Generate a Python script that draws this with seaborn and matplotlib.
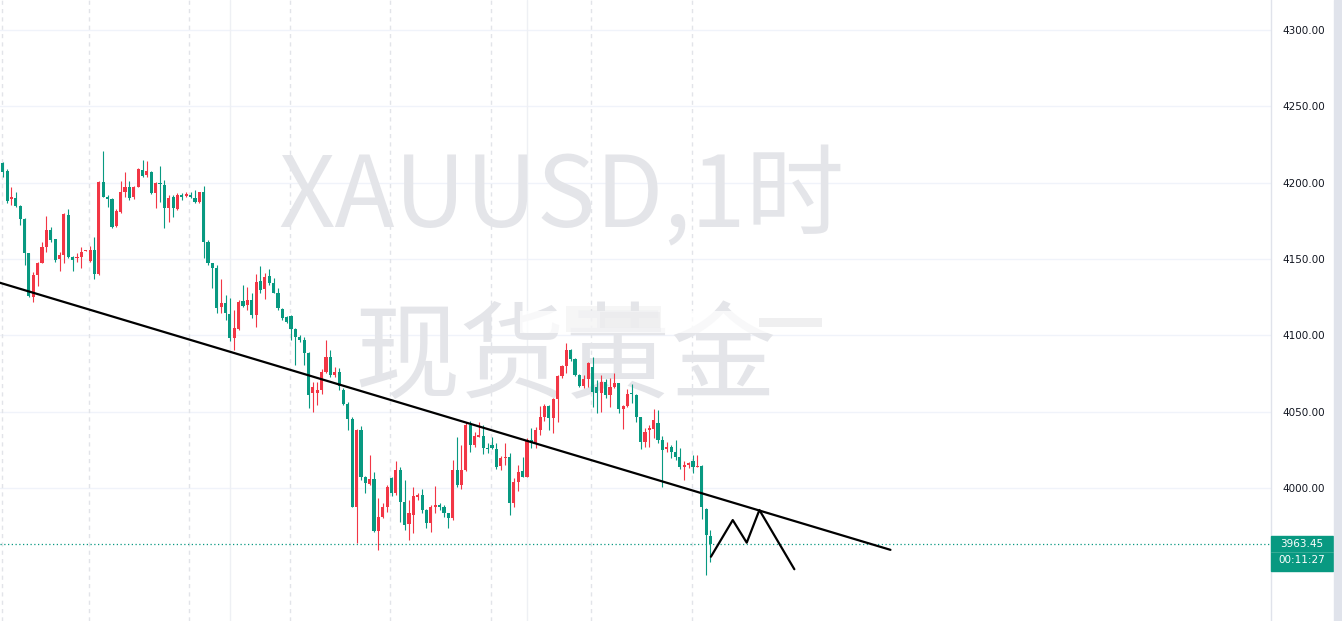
import numpy as np
import pandas as pd
import matplotlib
matplotlib.use("Agg")
import matplotlib.pyplot as plt
import matplotlib.transforms as mtransforms
from matplotlib.patches import Rectangle
import seaborn as sns

# XAUUSD 1h candles, oldest first
opens = [4213.0, 4207.8, 4189.0, 4189.7, 4184.7, 4176.2, 4153.7, 4125.3, 4139.5, 4147.6,
         4158.0, 4169.0, 4162.8, 4149.8, 4152.6, 4179.0, 4151.5, 4150.4, 4151.1, 4155.2,
         4148.9, 4155.9, 4140.1, 4200.2, 4190.8, 4189.0, 4171.6, 4181.0, 4194.1, 4197.3,
         4190.8, 4197.3, 4208.3, 4205.0, 4207.2, 4193.4, 4200.0, 4198.4, 4183.1, 4190.3,
         4182.7, 4191.9, 4191.2, 4191.9, 4189.7, 4187.5, 4194.1, 4161.3, 4147.1, 4143.9,
         4118.4, 4121.4, 4114.0, 4098.1, 4104.2, 4122.7, 4119.9, 4123.2, 4113.3, 4135.6,
         4130.1, 4138.9, 4134.5, 4128.0, 4117.0, 4112.2, 4112.7, 4103.9, 4099.1, 4097.0,
         4088.7, 4062.0, 4062.5, 4064.2, 4076.2, 4086.1, 4074.0, 4076.2, 4064.2, 4055.0,
         4045.0, 3987.7, 4038.0, 4007.4, 4002.6, 4005.6, 3972.0, 3981.2, 3987.7, 4006.3,
         3996.5, 4011.8, 3991.0, 3976.4, 3982.3, 3994.2, 3995.4, 3985.6, 3976.8, 3987.7,
         3988.8, 3987.7, 3983.4, 3980.1, 4011.8, 4001.9, 4011.8, 4041.2, 4028.1, 4033.6,
         4034.0, 4026.4, 4028.1, 4025.3, 4014.4, 4019.4, 4020.1, 3990.4, 4004.2, 4011.4,
         4007.4, 4031.5, 4029.5, 4038.0, 4046.3, 4053.7, 4045.7, 4058.1, 4073.4, 4079.9,
         4090.4, 4084.3, 4074.0, 4066.8, 4071.2, 4079.5, 4066.0, 4062.5, 4069.7, 4060.9,
         4066.0, 4068.6, 4052.0, 4053.7, 4062.5, 4061.0, 4046.3, 4030.4, 4038.0, 4038.4,
         4042.8, 4031.5, 4025.3, 4027.1, 4023.8, 4020.1, 4013.6, 4015.1, 4017.9, 4014.0,
         4014.4, 3986.0, 3968.5]
highs = [4213.7, 4208.7, 4197.3, 4194.1, 4185.3, 4176.6, 4154.1, 4141.7, 4148.2, 4161.3,
         4178.1, 4170.7, 4163.3, 4154.8, 4180.3, 4182.7, 4151.9, 4153.7, 4157.6, 4155.6,
         4158.5, 4164.6, 4201.0, 4220.7, 4191.9, 4189.7, 4182.5, 4201.3, 4207.2, 4201.3,
         4197.6, 4209.6, 4214.8, 4214.4, 4207.8, 4200.4, 4210.9, 4201.7, 4191.9, 4191.9,
         4193.0, 4193.4, 4194.1, 4194.1, 4195.2, 4194.1, 4198.0, 4162.4, 4147.6, 4146.0,
         4136.7, 4126.4, 4124.2, 4116.6, 4123.2, 4133.0, 4131.9, 4127.5, 4140.2, 4145.4,
         4141.1, 4143.2, 4137.3, 4130.8, 4117.7, 4112.7, 4113.3, 4104.6, 4100.2, 4098.7,
         4089.3, 4069.7, 4069.7, 4078.0, 4097.0, 4090.4, 4079.5, 4078.4, 4065.3, 4056.6,
         4046.7, 4038.4, 4040.6, 4007.8, 4021.6, 4010.7, 3993.2, 3989.9, 4001.9, 4007.0,
         4017.9, 4014.0, 4005.2, 3992.1, 4000.8, 3996.5, 3999.1, 3986.0, 3988.8, 4001.3,
         3989.9, 3988.8, 3983.8, 4018.3, 4033.6, 4028.1, 4043.4, 4044.1, 4036.9, 4043.4,
         4041.2, 4029.2, 4033.6, 4029.7, 4020.9, 4029.2, 4023.1, 4006.4, 4015.0, 4020.5,
         4032.6, 4039.1, 4040.0, 4053.7, 4055.0, 4054.5, 4059.0, 4074.0, 4080.5, 4095.2,
         4091.0, 4085.0, 4074.5, 4074.0, 4082.8, 4086.0, 4070.8, 4074.0, 4071.2, 4071.8,
         4075.1, 4069.0, 4054.4, 4064.6, 4068.1, 4061.3, 4046.7, 4039.1, 4041.3, 4051.5,
         4051.1, 4034.1, 4030.4, 4028.2, 4031.5, 4026.0, 4017.9, 4017.3, 4021.6, 4021.6,
         4015.1, 3986.7, 3972.5]
lows = [4203.9, 4186.4, 4185.3, 4184.2, 4172.2, 4146.0, 4125.3, 4121.6, 4132.5, 4147.1,
        4154.8, 4161.3, 4148.2, 4142.1, 4147.1, 4150.4, 4142.3, 4148.2, 4143.9, 4154.9,
        4147.8, 4136.6, 4139.5, 4190.4, 4184.2, 4170.0, 4170.7, 4179.9, 4190.8, 4188.6,
        4189.0, 4196.9, 4203.9, 4203.9, 4192.5, 4183.1, 4187.5, 4170.0, 4174.4, 4177.3,
        4182.1, 4188.6, 4190.8, 4189.7, 4186.9, 4186.4, 4150.4, 4146.0, 4130.8, 4114.4,
        4114.9, 4110.1, 4096.5, 4090.4, 4103.5, 4118.8, 4116.6, 4111.2, 4105.3, 4127.5,
        4123.6, 4133.0, 4127.5, 4116.6, 4110.1, 4108.3, 4097.0, 4080.6, 4095.9, 4080.6,
        4052.2, 4050.0, 4054.4, 4061.6, 4075.0, 4073.0, 4073.0, 4064.2, 4054.4, 4038.0,
        3987.3, 3963.7, 4005.2, 3996.9, 4001.9, 3971.5, 3959.4, 3980.1, 3984.5, 3995.0,
        3995.4, 3977.9, 3972.5, 3965.9, 3970.3, 3992.1, 3983.4, 3973.5, 3971.4, 3983.4,
        3985.6, 3980.8, 3973.5, 3979.0, 4000.8, 3999.1, 4011.3, 4023.8, 4027.0, 4033.2,
        4022.2, 4022.7, 4025.3, 4012.2, 4011.8, 4015.0, 3982.3, 3987.8, 3998.0, 4007.0,
        4007.0, 4026.0, 4026.0, 4035.0, 4044.0, 4038.0, 4035.8, 4043.5, 4072.0, 4075.1,
        4083.5, 4073.5, 4066.0, 4065.3, 4066.0, 4053.3, 4048.9, 4050.0, 4058.7, 4053.3,
        4065.3, 4049.4, 4038.4, 4053.0, 4055.9, 4043.5, 4025.4, 4027.1, 4027.1, 4032.6,
        4029.3, 4000.9, 4023.8, 4019.5, 4018.4, 4012.3, 4005.3, 4012.9, 4009.6, 4013.6,
        3980.0, 3943.0, 3951.7]
closes = [4207.2, 4187.9, 4190.3, 4184.9, 4176.2, 4153.7, 4125.7, 4139.5, 4147.1, 4158.0,
          4169.0, 4162.4, 4149.3, 4152.6, 4179.4, 4151.5, 4149.3, 4151.1, 4154.8, 4155.3,
          4155.9, 4140.1, 4200.6, 4190.8, 4189.0, 4171.1, 4181.6, 4194.1, 4197.3, 4189.7,
          4197.3, 4208.7, 4204.3, 4207.8, 4193.0, 4200.0, 4199.1, 4183.1, 4189.9, 4183.1,
          4191.9, 4190.8, 4192.3, 4190.3, 4187.5, 4193.6, 4161.3, 4147.1, 4143.9, 4117.7,
          4121.4, 4114.4, 4098.1, 4104.6, 4122.1, 4119.2, 4123.2, 4113.3, 4135.2, 4129.7,
          4138.0, 4134.5, 4128.0, 4117.7, 4111.2, 4109.0, 4103.9, 4098.7, 4097.0, 4088.7,
          4060.9, 4066.4, 4064.2, 4076.2, 4086.1, 4074.0, 4076.2, 4066.8, 4055.0, 4045.0,
          3987.7, 4038.0, 4007.4, 4003.0, 4005.6, 3972.0, 3981.2, 3987.7, 4000.8, 3996.5,
          4011.8, 3991.0, 3975.7, 3983.4, 3994.7, 3995.3, 3985.6, 3976.8, 3987.3, 3988.8,
          3987.7, 3983.4, 3980.1, 4011.8, 4001.9, 4011.8, 4041.2, 4028.1, 4034.0, 4034.7,
          4025.9, 4025.7, 4025.9, 4013.9, 4019.4, 4020.5, 3990.4, 4004.2, 4010.7, 4007.4,
          4031.5, 4029.5, 4038.0, 4046.3, 4053.7, 4045.7, 4058.1, 4073.4, 4079.9, 4090.4,
          4084.3, 4074.0, 4066.8, 4071.2, 4081.7, 4063.1, 4062.5, 4069.7, 4060.9, 4066.0,
          4068.6, 4051.5, 4053.7, 4061.6, 4061.6, 4046.3, 4030.4, 4036.9, 4039.1, 4044.6,
          4031.5, 4024.9, 4027.1, 4023.8, 4020.1, 4013.6, 4015.1, 4016.6, 4014.0, 4014.4,
          3987.8, 3969.2, 3963.45]

# chart furniture
session_breaks = [0, 20, 43, 66, 89, 112, 135, 158]   # bar index of each new trading day
grid_bars = [52, 120]
price_ticks = [4000, 4050, 4100, 4150, 4200, 4250, 4300]
trend_x = [-0.62, 203.2]
trend_y = [4134.4, 3959.5]
zigzag_x = [162.1, 167.1, 170.3, 173.2, 181.2]
zigzag_y = [3955.0, 3979.0, 3964.2, 3985.6, 3946.8]
last_price = 3963.45
countdown = "00:11:27"
watermark_top = "XAUUSD,1时"
watermark_bottom = "现货黄金"

UP = "#F23645"     # red = rising (Chinese convention)
DOWN = "#089981"   # teal = falling
W, H = 1342, 621   # canvas in px

sns.set_style("white")
plt.rcParams['font.family'] = ['DejaVu Sans']

df = pd.DataFrame({'open': opens, 'high': highs, 'low': lows, 'close': closes})
df['bar'] = np.arange(len(df))
df['color'] = np.where(df['close'] >= df['open'], UP, DOWN)
df['body_lo'] = df[['open', 'close']].min(axis=1)
df['body_h'] = (df['close'] - df['open']).abs().clip(lower=0.6)

fig = plt.figure(figsize=(W / 100, H / 100), dpi=100)
ax = fig.add_axes([0, 0, 1271 / W, 1])
ax.set_xlim(-0.62, 290.3)
ax.set_ylim(3912.9, 4319.6)

# grid
for p in price_ticks:
    ax.axhline(p, color="#f0f3fa", lw=1.0, zorder=0.2)
for b in grid_bars:
    ax.axvline(b, color="#eef0f4", lw=1.0, zorder=0.2)
for b in session_breaks:
    ax.axvline(b - 0.25, color="#e2e4e9", lw=1.0, ls=(0, (3, 3)), zorder=0.3)

# watermark
wm = dict(transform=fig.transFigure, ha="center", color="#e4e5e9",
          family=['Noto Sans CJK SC', 'DejaVu Sans'], zorder=0.5)
ax.text(561 / W, 1 - 227 / H, watermark_top, va="baseline", fontsize=71, **wm)
ax.text(565 / W, 1 - 360 / H, watermark_bottom, va="center", fontsize=76, **wm)

# soft blurred smear over the watermark in the screenshot
for (x0, y0, w, h, c, a) in [(520, 311, 302, 22, "white", 0.75),
                             (566, 306, 95, 26, "#e6e6e8", 0.35),
                             (600, 312, 60, 16, "#e3e3e5", 0.35),
                             (759, 318, 63, 9, "#ececed", 0.8)]:
    ax.add_patch(Rectangle((x0 / W, 1 - (y0 + h) / H), w / W, h / H,
                           transform=fig.transFigure, facecolor=c,
                           edgecolor="none", alpha=a, zorder=0.6))

# candles
ax.vlines(df['bar'], df['low'], df['high'], colors=df['color'], lw=0.8, zorder=2)
ax.bar(df['bar'], df['body_h'], bottom=df['body_lo'], width=0.72,
       color=df['color'], linewidth=0, zorder=2.1)

# drawings
sns.lineplot(x=trend_x, y=trend_y, ax=ax, color="black", lw=1.6, zorder=3)
sns.lineplot(x=zigzag_x, y=zigzag_y, ax=ax, color="black", lw=1.6, sort=False, zorder=3)

# last price line
ax.axhline(last_price, color=DOWN, lw=0.9, ls=(0, (1, 2)), zorder=1.5)

# price scale
ax.set_xticks([])
ax.yaxis.tick_right()
ax.set_yticks(price_ticks)
ax.set_yticklabels([f"{p:.2f}" for p in price_ticks])
ax.tick_params(axis='y', length=0, pad=8, labelsize=7.5, labelcolor="#131722")
for s in ['top', 'left', 'bottom']:
    ax.spines[s].set_visible(False)
ax.spines['right'].set_color("#e0e3eb")
ax.spines['right'].set_linewidth(1.0)

# last price tag
blend = mtransforms.blended_transform_factory(ax.transAxes, ax.transData)
tag_w = 62 / 1271
ax.add_patch(Rectangle((1.0, last_price - 17.7), tag_w, 22.9, transform=blend,
                       color=DOWN, clip_on=False, zorder=4))
ax.plot([1.0, 1.0 + tag_w], [last_price - 5.6] * 2, transform=blend,
        color="#3fb09b", lw=0.6, clip_on=False, zorder=4.5)
ax.text(1.0 + tag_w / 2, last_price, f"{last_price:.2f}", transform=blend,
        ha="center", va="center", color="white", fontsize=7.5, clip_on=False, zorder=5)
ax.text(1.0 + tag_w / 2, last_price - 10.8, countdown, transform=blend,
        ha="center", va="center", color="white", fontsize=7.5, clip_on=False, zorder=5)

# strip on far right
fig.patches.append(Rectangle((1334 / W, 0), 8 / W, 1, transform=fig.transFigure,
                             color="#e0e3eb", zorder=0))

fig.savefig("out.png", dpi=100)
